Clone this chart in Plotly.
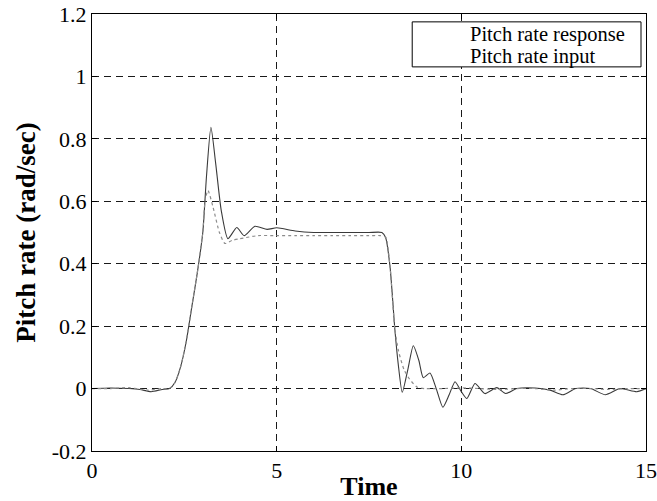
import plotly.graph_objects as go

# Pitch rate response (closed-loop output)
t_response = [0, 0.5, 1.0, 1.3, 1.6, 1.9, 2.1, 2.25, 2.4, 2.55, 2.7, 2.85, 3.0, 3.1,
              3.22, 3.35, 3.5, 3.68, 3.92, 4.12, 4.41, 4.74, 5.0, 5.5, 6.0, 6.5, 7.0,
              7.5, 7.85, 7.95, 8.07, 8.2, 8.29, 8.4, 8.55, 8.7, 8.85, 8.97, 9.15, 9.32,
              9.5, 9.67, 9.83, 10.0, 10.15, 10.37, 10.64, 10.96, 11.2, 11.5, 12.0, 12.4,
              12.75, 13.1, 13.5, 13.9, 14.3, 14.75, 15]
q_response = [0, 0.002, 0.0, -0.003, -0.01, -0.003, 0.0, 0.02, 0.07, 0.15, 0.26, 0.37,
              0.5, 0.68, 0.837, 0.72, 0.57, 0.48, 0.516, 0.49, 0.52, 0.51, 0.515, 0.505,
              0.5, 0.5, 0.5, 0.5, 0.5, 0.484, 0.39, 0.19, 0.08, -0.012, 0.06, 0.137,
              0.09, 0.035, 0.05, 0.0, -0.06, -0.02, 0.022, -0.01, -0.032, 0.016, -0.016,
              0.003, -0.016, 0.0, 0.002, -0.005, -0.02, 0.0, 0.0, -0.02, 0.0, -0.01, 0.0]

# Pitch rate command (input)
t_input = [0, 0.5, 1.0, 1.5, 1.9, 2.1, 2.25, 2.4, 2.55, 2.7, 2.85, 3.0, 3.06, 3.14,
           3.28, 3.45, 3.6, 3.8, 4.0, 4.5, 5.0, 5.5, 6.0, 6.5, 7.0, 7.5, 7.8, 7.95,
           8.07, 8.2, 8.3, 8.45, 8.6, 8.8, 9.0, 9.5, 10.0, 10.5, 11.0, 11.5, 12.0,
           12.5, 13.0, 13.5, 14.0, 14.5, 15]
q_input = [0, 0.0, 0.003, -0.005, 0.0, 0.0, 0.02, 0.07, 0.15, 0.26, 0.37, 0.5, 0.6,
           0.635, 0.58, 0.5, 0.465, 0.475, 0.48, 0.49, 0.49, 0.49, 0.49, 0.49, 0.49,
           0.49, 0.49, 0.485, 0.39, 0.19, 0.12, 0.06, 0.03, 0.005, 0.0, 0.0, 0.002,
           0.0, -0.003, 0.0, 0.0, -0.005, 0.0, 0.0, -0.003, 0.0, 0.0]

legend_labels = ["Pitch rate response", "Pitch rate input"]
x_ticks = [0, 5, 10, 15]
y_ticks = [-0.2, 0, 0.2, 0.4, 0.6, 0.8, 1, 1.2]
y_tick_text = ["-0.2", "0", "0.2", "0.4", "0.6", "0.8", "1", "1.2"]

SERIF = "Liberation Serif, Times New Roman, serif"

fig = go.Figure()
fig.add_trace(go.Scatter(
    x=t_response, y=q_response, mode="lines", name=legend_labels[0],
    line=dict(color="#3a3a3a", width=1.1, shape="spline", smoothing=0.6),
))
fig.add_trace(go.Scatter(
    x=t_input, y=q_input, mode="lines", name=legend_labels[1],
    line=dict(color="#8c8c8c", width=1.2, dash="dot", shape="spline", smoothing=0.6),
))

axis_common = dict(
    showline=True, linecolor="black", linewidth=1, mirror="ticks",
    ticks="inside", ticklen=5, tickcolor="black",
    showgrid=True, gridcolor="#1a1a1a", gridwidth=1, griddash="7px,5px",
    zeroline=False, automargin=False,
    tickfont=dict(family=SERIF, size=22, color="black"),
)

fig.update_xaxes(
    range=[0, 15], tickvals=x_ticks, ticktext=[str(v) for v in x_ticks],
    title=dict(text="<b>Time</b>", font=dict(family=SERIF, size=26, color="black"),
               standoff=0),
    **axis_common,
)
fig.update_yaxes(
    range=[-0.2, 1.2], tickvals=y_ticks, ticktext=y_tick_text,
    title=dict(text="<b>Pitch rate (rad/sec)</b>",
               font=dict(family=SERIF, size=27, color="black"), standoff=8),
    **axis_common,
)

# Legend box with text entries
fig.add_shape(type="rect", xref="paper", yref="paper",
              x0=0.578, x1=0.991, y0=0.879, y1=0.982,
              line=dict(color="black", width=1), fillcolor="white", layer="above")
for label, ypos in zip(legend_labels, [0.952, 0.902]):
    fig.add_annotation(xref="paper", yref="paper", x=0.679, y=ypos, text=label,
                       showarrow=False, xanchor="left", yanchor="middle",
                       font=dict(family=SERIF, size=20.5, color="black"))

fig.update_layout(
    width=657, height=501,
    margin=dict(l=92, r=11, t=14, b=50),
    paper_bgcolor="white", plot_bgcolor="white",
    showlegend=False,
)

fig.write_html("out.html")
